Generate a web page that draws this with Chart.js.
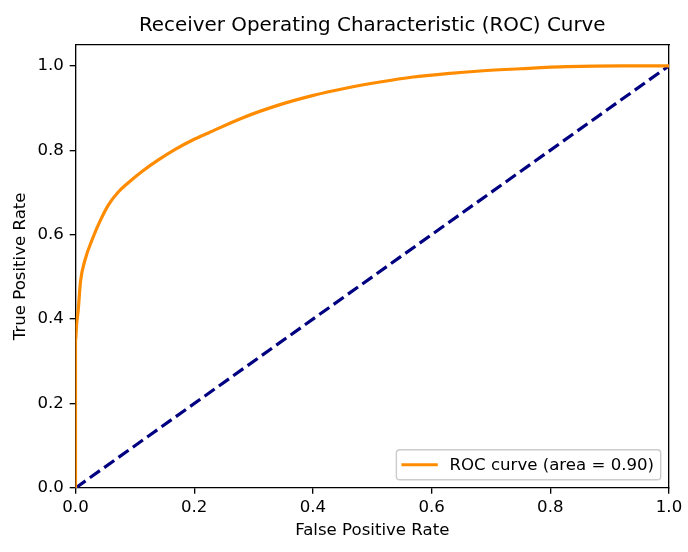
<!DOCTYPE html>
<html>
<head>
<meta charset="utf-8">
<script src="https://cdn.jsdelivr.net/npm/chart.js@4.4.1/dist/chart.umd.min.js"></script>
<style>
  html, body { margin: 0; padding: 0; background: #ffffff; }
  #wrap { width: 688px; height: 552px; }
</style>
</head>
<body>
<div id="wrap"><canvas id="c" width="688" height="552"></canvas></div>
<script>
// ---- data ----
const titleText = 'Receiver Operating Characteristic (ROC) Curve';
const xTitle = 'False Positive Rate';
const yTitle = 'True Positive Rate';
const rocLabel = 'ROC curve (area = 0.90)';

const fpr = [0, 0, 0.002, 0.0045, 0.0085, 0.016, 0.030, 0.0413, 0.0553, 0.0721, 0.089, 0.1115, 0.1396, 0.168, 0.2, 0.224, 0.28, 0.3446, 0.4007, 0.457, 0.513, 0.569, 0.6255, 0.6815, 0.75, 0.828, 0.92, 1.0];
const tpr = [0, 0.35, 0.39, 0.42, 0.49, 0.54, 0.595, 0.632, 0.670, 0.701, 0.723, 0.749, 0.777, 0.802, 0.826, 0.841, 0.876, 0.908, 0.930, 0.9475, 0.9617, 0.9735, 0.9815, 0.9877, 0.993, 0.998, 1.0, 1.0];

const diagX = [0, 1];
const diagY = [0, 1];

const xTicks = [0, 0.2, 0.4, 0.6, 0.8, 1.0];
const yTicks = [0, 0.2, 0.4, 0.6, 0.8, 1.0];

// ---- styling ----
const FONT = 'DejaVu Sans';
const FS = 16.6;
const INK = '#000000';

const rocPoints = fpr.map((x, i) => ({ x: x, y: tpr[i] }));
const diagPoints = diagX.map((x, i) => ({ x: x, y: diagY[i] }));

// legend drawn inside the plot area, lower right (matplotlib style)
const insideLegend = {
  id: 'insideLegend',
  afterDraw(chart) {
    const ds = chart.data.datasets.filter(d => d.showInLegend);
    if (!ds.length) return;
    const ctx = chart.ctx;
    const area = chart.chartArea;
    const fs = FS;
    const pad = 0.4 * fs, handle = 2.0 * fs, gapT = 0.8 * fs, axPad = 0.5 * fs;
    ctx.save();
    ctx.font = fs + 'px "' + FONT + '"';
    const tw = Math.max(...ds.map(d => ctx.measureText(d.label).width));
    const rowH = 1.0 * fs;
    const w = pad + handle + gapT + tw + pad;
    const h = pad * 2 + rowH * ds.length;
    const right = area.right - axPad;
    const bottom = area.bottom - axPad;
    const left = right - w, top = bottom - h;
    const r = 0.2 * fs;
    ctx.beginPath();
    ctx.moveTo(left + r, top);
    ctx.lineTo(right - r, top);
    ctx.arcTo(right, top, right, top + r, r);
    ctx.lineTo(right, bottom - r);
    ctx.arcTo(right, bottom, right - r, bottom, r);
    ctx.lineTo(left + r, bottom);
    ctx.arcTo(left, bottom, left, bottom - r, r);
    ctx.lineTo(left, top + r);
    ctx.arcTo(left, top, left + r, top, r);
    ctx.closePath();
    ctx.fillStyle = 'rgba(255,255,255,0.8)';
    ctx.fill();
    ctx.lineWidth = 1.4;
    ctx.strokeStyle = '#cccccc';
    ctx.stroke();
    ds.forEach((d, i) => {
      const cy = top + h / 2 + (i - (ds.length - 1) / 2) * rowH;
      ctx.beginPath();
      ctx.setLineDash(d.borderDash || []);
      ctx.lineCap = 'square';
      ctx.strokeStyle = d.borderColor;
      ctx.lineWidth = d.borderWidth;
      ctx.moveTo(left + pad, cy);
      ctx.lineTo(left + pad + handle, cy);
      ctx.stroke();
      ctx.setLineDash([]);
      ctx.fillStyle = INK;
      ctx.textAlign = 'left';
      ctx.textBaseline = 'middle';
      ctx.fillText(d.label, left + pad + handle + gapT, cy + 1);
    });
    ctx.restore();
  }
};

const axisCommon = {
  grid: { display: true, drawOnChartArea: false, drawTicks: true, tickLength: 5.8, color: INK, lineWidth: 1.33 },
  border: { display: true, color: INK, width: 1.33 }
};

new Chart(document.getElementById('c'), {
  type: 'line',
  data: {
    datasets: [
      {
        label: rocLabel,
        showInLegend: true,
        data: rocPoints,
        borderColor: '#ff8c00',
        backgroundColor: '#ff8c00',
        borderWidth: 3.2,
        pointRadius: 0,
        fill: false,
        cubicInterpolationMode: 'monotone'
      },
      {
        label: 'chance',
        showInLegend: false,
        data: diagPoints,
        borderColor: '#000080',
        backgroundColor: '#000080',
        borderWidth: 3.2,
        borderDash: [12.3, 5.3],
        pointRadius: 0,
        fill: false,
        tension: 0
      }
    ]
  },
  options: {
    responsive: false,
    animation: false,
    devicePixelRatio: 1,
    layout: { padding: { top: 0, right: 19, bottom: 0, left: 0 } },
    plugins: {
      legend: { display: false },
      tooltip: { enabled: false },
      title: {
        display: true,
        fullSize: false,
        text: titleText,
        color: INK,
        font: { family: FONT, size: 19.9, weight: 'normal' },
        padding: { top: 14.3, bottom: 6.5 }
      }
    },
    scales: {
      x: {
        type: 'linear',
        position: 'bottom',
        min: 0,
        max: 1,
        grid: axisCommon.grid,
        border: axisCommon.border,
        afterBuildTicks: s => { s.ticks = xTicks.map(v => ({ value: v })); },
        ticks: {
          color: INK,
          font: { family: FONT, size: FS },
          padding: 4,
          maxRotation: 0,
          autoSkip: false,
          callback: v => Number(v).toFixed(1)
        },
        title: {
          display: true,
          text: xTitle,
          color: INK,
          font: { family: FONT, size: FS },
          padding: { top: 0, bottom: 11.5 }
        },
        afterFit: s => { s.height = 64; s.paddingLeft = 0; s.paddingRight = 0; }
      },
      y: {
        type: 'linear',
        position: 'left',
        min: 0,
        max: 1.05,
        grid: axisCommon.grid,
        border: axisCommon.border,
        afterBuildTicks: s => { s.ticks = yTicks.map(v => ({ value: v })); },
        ticks: {
          color: INK,
          font: { family: FONT, size: FS },
          padding: 5.8,
          autoSkip: false,
          callback: v => Number(v).toFixed(1)
        },
        title: {
          display: true,
          text: yTitle,
          color: INK,
          font: { family: FONT, size: FS },
          padding: { top: 10.5, bottom: 0 }
        },
        afterFit: s => { s.width = 75.5; s.paddingTop = 0; s.paddingBottom = 0; }
      },
      xTop: {
        type: 'linear',
        position: 'top',
        min: 0,
        max: 1,
        grid: { display: false },
        ticks: { display: false },
        border: axisCommon.border,
        afterFit: s => { s.height = 0; s.paddingLeft = 0; s.paddingRight = 0; }
      },
      yRight: {
        type: 'linear',
        position: 'right',
        min: 0,
        max: 1.05,
        grid: { display: false },
        ticks: { display: false },
        border: axisCommon.border,
        afterFit: s => { s.width = 0; s.paddingTop = 0; s.paddingBottom = 0; }
      }
    }
  },
  plugins: [insideLegend]
});
</script>
</body>
</html>
